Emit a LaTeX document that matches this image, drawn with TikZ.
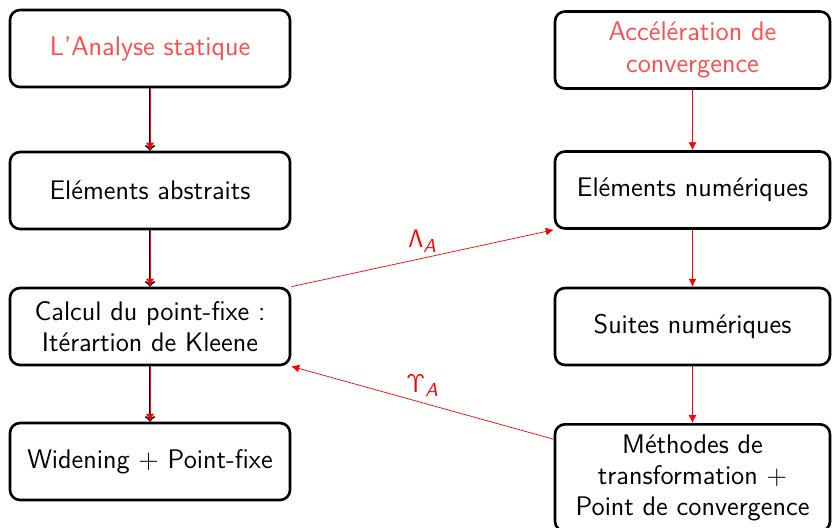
\documentclass[tikz,border=0pt]{standalone}
\usepackage{tikz}
\usetikzlibrary{calc, arrows.meta}
\usepackage{amsmath}
\usepackage{amssymb}

\begin{document}
\begin{tikzpicture}[auto, >={Latex[length=4.5pt, width=4.5pt]},
    box/.style={draw, rounded corners=0.2cm, line width=1.5pt, align=center,
                font=\sffamily\fontsize{15.3}{17.8}\selectfont, inner sep=3pt},
    lbox/.style={box, minimum width=5.6cm, minimum height=1.54cm},
    rbox/.style={box, minimum width=5.5cm, minimum height=1.54cm},
    title/.style={text=red!70}]
        \useasboundingbox (0,0) rectangle (16.64,-10.54);

        % Left column: the static analysis side
        \node[lbox, title] (analyse) at (3.0,-0.97) {L'Analyse statique};
        \node[lbox] (abstraits) at (3.0,-3.81) {Eléments abstraits};
        \node[lbox] (kleene) at (3.0,-6.53) {Calcul du point-fixe :\\ Itérartion de Kleene};
        \node[lbox] (widening) at (3.0,-9.23) {Widening + Point-fixe};

        % Right column: the convergence acceleration side
        \node[rbox, title] (accel) at (13.85,-1.0) {Accélération de\\ convergence};
        \node[rbox] (numeriques) at (13.85,-3.8) {Eléments numériques};
        \node[rbox] (suites) at (13.85,-6.53) {Suites numériques};
        \node[rbox, anchor=north, minimum height=2.14cm] (methodes) at (13.85,-8.46)
            {Méthodes de\\ transformation +\\ Point de convergence};

        % Left arrows: black shaft with a red one on top
        \draw[-to, line width=1.1pt] (analyse) -- (abstraits);
        \draw[->, red, line width=0.25pt] (analyse) -- (abstraits);
        \draw[-to, line width=1.1pt] (abstraits) -- (kleene);
        \draw[->, red, line width=0.25pt] (abstraits) -- (kleene);
        \draw[-to, line width=1.1pt] (kleene) -- (widening);
        \draw[->, red, line width=0.25pt] (kleene) -- (widening);

        % Right arrows
        \draw[->, red] (accel) -- (numeriques);
        \draw[->, red] (numeriques) -- (suites);
        \draw[->, red] (suites) -- (methodes);

        % Crossing arrows between the two columns
        \draw[->, red] (kleene.north east) -- node[above, font=\fontsize{15.3}{17}\selectfont]
            {$\mathsf{\Lambda}_{\textsf{\itshape A}}$} (numeriques.south west);
        \draw[->, red] (methodes) -- node[above, font=\fontsize{15.3}{17}\selectfont]
            {$\mathsf{\Upsilon}_{\textsf{\itshape A}}$} (kleene.south east);
    \end{tikzpicture}
\end{document}
